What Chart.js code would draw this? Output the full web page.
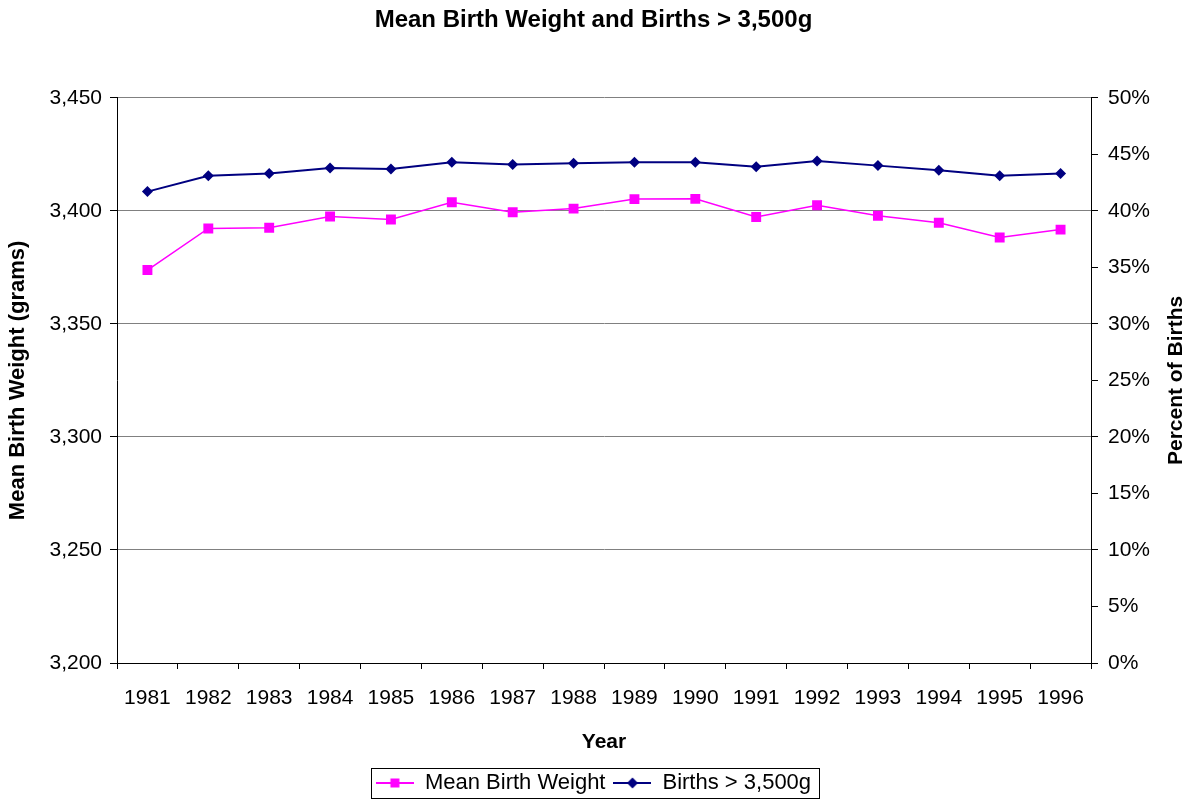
<!DOCTYPE html>
<html>
<head>
<meta charset="utf-8">
<script src="https://cdn.jsdelivr.net/npm/chart.js@4/dist/chart.umd.min.js"></script>
<style>
  body { margin: 0; background: #fff; }
  canvas { display: block; }
</style>
</head>
<body>
<canvas id="birthChart" width="1187" height="804"></canvas>
<script>
const years = ["1981", "1982", "1983", "1984", "1985", "1986", "1987", "1988",
  "1989", "1990", "1991", "1992", "1993", "1994", "1995", "1996"];
const meanWeight = [3373.8, 3392.2, 3392.5, 3397.5, 3396.2, 3403.8, 3399.4, 3401.0,
  3405.2, 3405.3, 3397.3, 3402.5, 3397.8, 3394.7, 3388.2, 3391.7];
const pctOver3500 = [41.7, 43.1, 43.3, 43.8, 43.7, 44.3, 44.1, 44.2,
  44.3, 44.3, 43.9, 44.4, 44.0, 43.6, 43.1, 43.3];

const FONT = "'Liberation Sans', Arial, sans-serif";
const PINK = "#ff00ff";
const NAVY = "#000080";

// little line+marker pictures for the legend, like excel does
function legendIcon(color, shape) {
  const c = document.createElement("canvas");
  c.width = 38;
  c.height = 14;
  const g = c.getContext("2d");
  g.strokeStyle = color;
  g.fillStyle = color;
  g.lineWidth = 2;
  g.beginPath();
  g.moveTo(0, 7);
  g.lineTo(38, 7);
  g.stroke();
  g.beginPath();
  if (shape === "square") {
    g.rect(14.5, 2.5, 9, 9);
  } else {
    g.moveTo(19, 1.5);
    g.lineTo(24.5, 7);
    g.lineTo(19, 12.5);
    g.lineTo(13.5, 7);
    g.closePath();
  }
  g.fill();
  return c;
}

const extras = {
  id: "extras",
  afterDraw(chart) {
    const ctx = chart.ctx;
    const area = chart.chartArea;
    const right = chart.scales.y1;
    ctx.save();
    ctx.fillStyle = "#000";
    ctx.font = "bold 21px " + FONT;
    ctx.textAlign = "center";
    ctx.textBaseline = "middle";
    ctx.translate(right.right - 11, (area.top + area.bottom) / 2);
    ctx.rotate(-Math.PI / 2);
    ctx.fillText("Percent of Births", 0, 0);
    ctx.restore();

    const boxes = chart.legend.legendHitBoxes;
    if (!boxes || !boxes.length) return;
    let l = Infinity, r = -Infinity, t = Infinity, b = -Infinity;
    boxes.forEach((hb) => {
      l = Math.min(l, hb.left);
      r = Math.max(r, hb.left + hb.width);
      t = Math.min(t, hb.top);
      b = Math.max(b, hb.top + hb.height);
    });
    ctx.save();
    ctx.strokeStyle = "#000";
    ctx.lineWidth = 1;
    ctx.strokeRect(Math.round(l - 5) + 0.5, Math.round(t - 4) + 0.5,
      Math.round(r - l + 13), Math.round(b - t + 8));
    ctx.restore();
  },
};

const ctx = document.getElementById("birthChart").getContext("2d");

new Chart(ctx, {
  type: "line",
  data: {
    labels: years,
    datasets: [
      {
        label: "Mean Birth Weight",
        data: meanWeight,
        yAxisID: "y",
        borderColor: PINK,
        backgroundColor: PINK,
        borderWidth: 1.5,
        pointStyle: "rect",
        pointRadius: 7,
        pointBorderWidth: 0,
        tension: 0,
      },
      {
        label: "Births > 3,500g",
        data: pctOver3500,
        yAxisID: "y1",
        borderColor: NAVY,
        backgroundColor: NAVY,
        borderWidth: 2,
        pointStyle: "rectRot",
        pointRadius: 5.5,
        pointBorderWidth: 0,
        tension: 0,
      },
    ],
  },
  options: {
    responsive: false,
    animation: false,
    layout: { padding: 0 },
    plugins: {
      title: {
        display: true,
        text: "Mean Birth Weight and Births > 3,500g",
        color: "#000",
        font: { family: FONT, size: 24, weight: "bold" },
        padding: { top: 6, bottom: 63 },
      },
      legend: {
        position: "bottom",
        labels: {
          color: "#000",
          font: { family: FONT, size: 22 },
          usePointStyle: true,
          pointStyleWidth: 38,
          padding: 8,
          generateLabels: (chart) => [
            { text: "Mean Birth Weight", pointStyle: legendIcon(PINK, "square"), datasetIndex: 0, fontColor: "#000" },
            { text: "Births > 3,500g", pointStyle: legendIcon(NAVY, "diamond"), datasetIndex: 1, fontColor: "#000" },
          ],
        },
      },
      tooltip: { enabled: false },
    },
    scales: {
      x: {
        offset: true,
        grid: {
          offset: true,
          drawOnChartArea: false,
          tickLength: 6,
          tickColor: "#000",
        },
        border: { color: "#000", width: 1 },
        ticks: {
          color: "#000",
          font: { family: FONT, size: 21 },
          padding: 17,
          maxRotation: 0,
        },
        title: {
          display: true,
          text: "Year",
          color: "#000",
          font: { family: FONT, size: 21, weight: "bold" },
          padding: { top: 0, bottom: 9 },
        },
        afterFit: (scale) => {
          scale.height = 804 - 663 - scale.chart.legend.height;
        },
      },
      y: {
        position: "left",
        min: 3200,
        max: 3450,
        grid: {
          color: "#808080",
          tickColor: "#000",
          tickLength: 7,
        },
        border: { color: "#000", width: 1 },
        ticks: {
          stepSize: 50,
          color: "#000",
          font: { family: FONT, size: 21 },
          padding: 8,
          callback: (v) => v.toLocaleString("en-US"),
        },
        title: {
          display: true,
          text: "Mean Birth Weight (grams)",
          color: "#000",
          font: { family: FONT, size: 22, weight: "bold" },
          padding: { top: 5, bottom: 0 },
        },
        afterFit: (scale) => {
          scale.width = 117;
        },
      },
      y1: {
        position: "right",
        min: 0,
        max: 50,
        grid: {
          drawOnChartArea: false,
          tickColor: "#000",
          tickLength: 7,
        },
        border: { color: "#000", width: 1 },
        ticks: {
          stepSize: 5,
          color: "#000",
          font: { family: FONT, size: 21 },
          padding: 10,
          callback: (v) => v + "%",
        },
        afterFit: (scale) => {
          scale.width = 96;
        },
      },
    },
  },
  plugins: [extras],
});
</script>
</body>
</html>
